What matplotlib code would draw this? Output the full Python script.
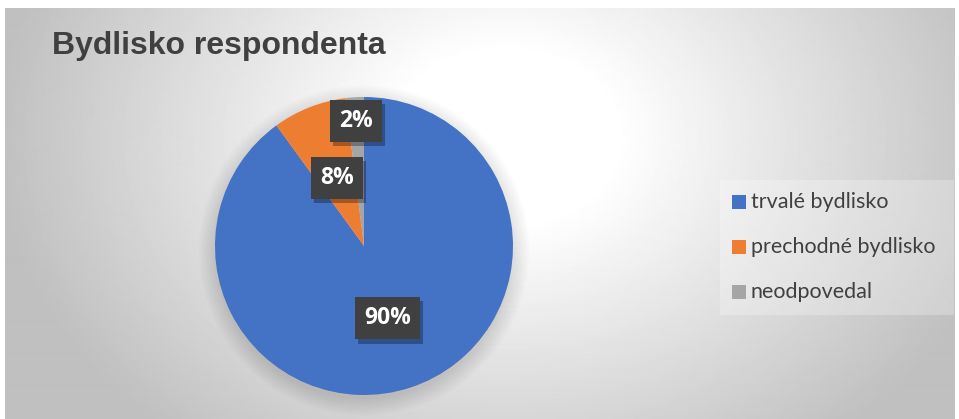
import numpy as np
import matplotlib.pyplot as plt
from matplotlib.patches import Rectangle, Circle
import matplotlib.patheffects as pe

# data
categories = ["trvalé bydlisko", "prechodné bydlisko", "neodpovedal"]
values = [90, 8, 2]
colors = ["#4472C4", "#ED7D31", "#A5A5A5"]
label_dist = [0.51, 0.49, 0.84]

W, H = 959, 419
fig = plt.figure(figsize=(W / 100, H / 100), dpi=100)
fig.patch.set_facecolor("white")

# chart area background with radial gradient
bg = fig.add_axes([5 / W, 0, 950 / W, 411 / H])
yy, xx = np.mgrid[0:411, 0:950]
d = np.sqrt(((xx - 500) / 560.0) ** 2 + ((yy - 130) / 430.0) ** 2)
shade = np.clip(1.0 - 0.28 * np.clip(d - 0.2, 0, None) / 0.8, 0.75, 1.0)
bg.imshow(shade, cmap="gray", vmin=0, vmax=1, aspect="auto", interpolation="bilinear")
bg.set_axis_off()

# title
fig.text(52 / W, 1 - 54 / H, "Bydlisko respondenta", fontsize=23, fontweight="bold",
         color="#404040", family="Liberation Sans", va="baseline", ha="left")

# pie
cx, cy, r = 364, 246, 149
ax = fig.add_axes([(cx - r) / W, (H - cy - r) / H, 2 * r / W, 2 * r / H])

# soft shadow below the pie
for i in range(10):
    ax.add_patch(Circle((0.0, -0.03), 1.0 + 0.012 * i, color="black",
                        alpha=0.012, lw=0, zorder=0, clip_on=False))

wedges, _ = ax.pie(values, colors=colors, startangle=90, counterclock=False,
                   radius=1, wedgeprops=dict(linewidth=0))
for w in wedges:
    w.set_zorder(2)
ax.set_xlim(-1, 1)
ax.set_ylim(-1, 1)
ax.set_aspect("equal")
ax.axis("off")

for w, v, dist in zip(wedges, values, label_dist):
    ang = np.deg2rad((w.theta1 + w.theta2) / 2)
    x, y = dist * np.cos(ang), dist * np.sin(ang)
    t = ax.text(x, y, f"{v}%", color="white", fontsize=16.5, fontweight="bold",
                family="Open Sans", ha="center", va="center", zorder=5,
                bbox=dict(boxstyle="square,pad=0.4", fc="#404040", ec="none"))
    t.get_bbox_patch().set_path_effects(
        [pe.SimplePatchShadow(offset=(2, -3), shadow_rgbFace="black", alpha=0.3), pe.Normal()])

# legend box
fig.patches.append(Rectangle((720 / W, 1 - 315 / H), 234 / W, 135 / H,
                             transform=fig.transFigure, fc="white", alpha=0.25,
                             ec="none", zorder=1))
ys = [202, 247, 292]
for lab, c, yp in zip(categories, colors, ys):
    fig.patches.append(Rectangle((732 / W, 1 - (yp + 7) / H), 14 / W, 14 / H,
                                 transform=fig.transFigure, fc=c, ec="none", zorder=3))
    fig.text(751 / W, 1 - yp / H, lab, fontsize=15.5, color="#404040",
             family="Lato", va="center", ha="left", zorder=3)

fig.savefig("out.png", dpi=100)
